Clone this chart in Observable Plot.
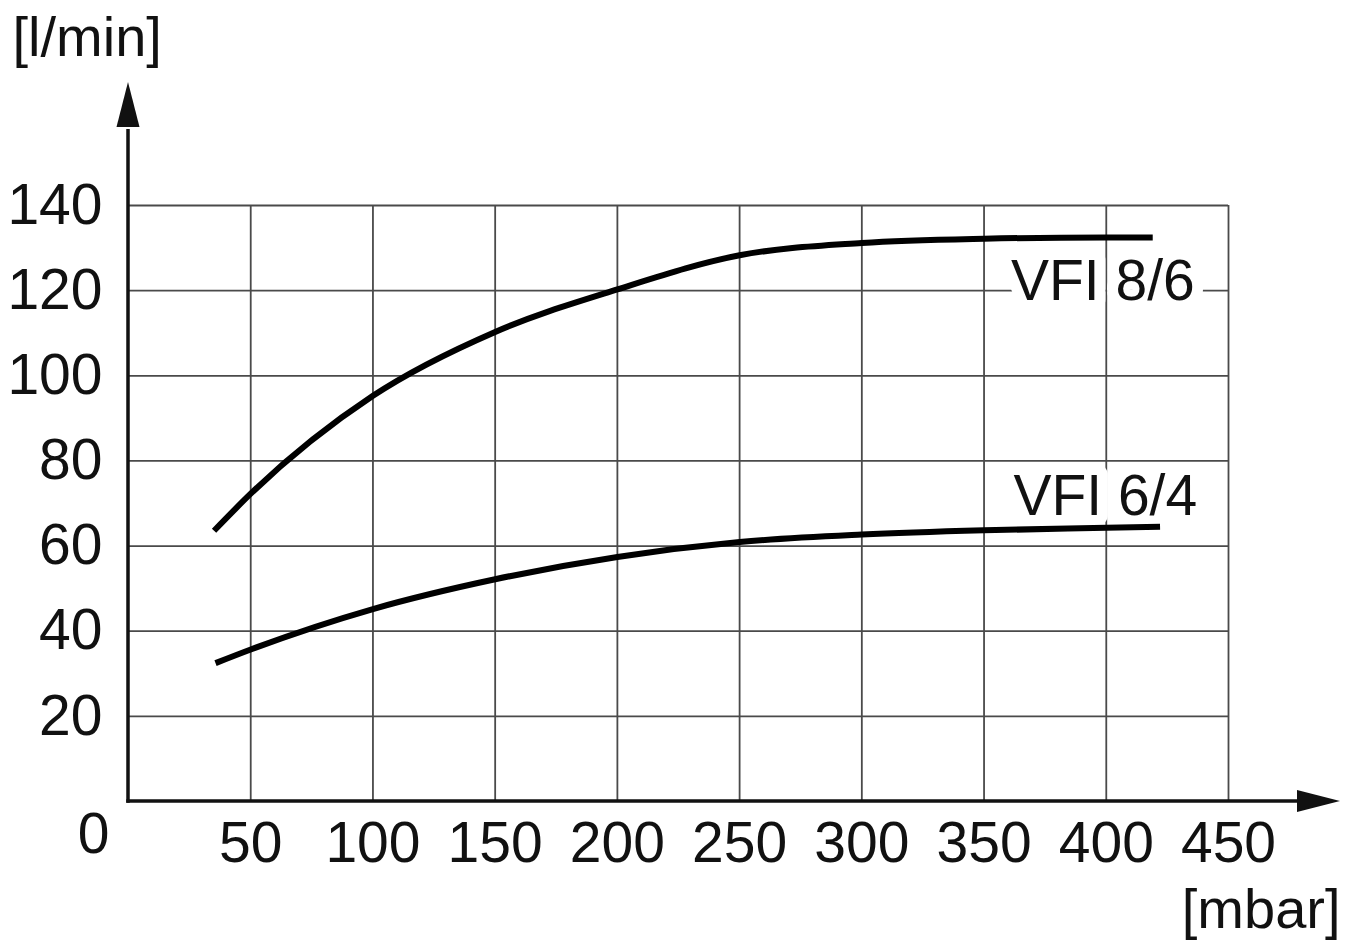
<!DOCTYPE html>
<html>
<head>
<meta charset="utf-8">
<script src="https://cdn.jsdelivr.net/npm/d3@7"></script>
<script src="https://cdn.jsdelivr.net/npm/@observablehq/plot@0.6"></script>
<style>
  html, body { margin: 0; padding: 0; background: #fff; }
  #chart svg { display: block; }
</style>
</head>
<body>
<div id="chart"></div>
<script>
// ---- data ----
const pressure86 = [35, 50, 100, 150, 200, 250, 300, 350, 400, 419];
const flow86     = [63.6, 72.3, 95.3, 110.3, 120.3, 128.3, 131.2, 132.2, 132.5, 132.5];
const pressure64 = [35.6, 50, 100, 150, 200, 250, 300, 350, 400, 422];
const flow64     = [32.5, 35.7, 45.2, 52.2, 57.45, 60.95, 62.7, 63.7, 64.3, 64.55];
const seriesNames = ["VFI 8/6", "VFI 6/4"];
const labelX = [361, 362];
const labelY = [117.7, 67.2];
const xTicks = [50, 100, 150, 200, 250, 300, 350, 400, 450];
const yTicks = [20, 40, 60, 80, 100, 120, 140];
const xUnit = "[mbar]";
const yUnit = "[l/min]";
const originLabel = "0";

const rows = [
  ...pressure86.map((p, i) => ({series: seriesNames[0], p, q: flow86[i]})),
  ...pressure64.map((p, i) => ({series: seriesNames[1], p, q: flow64[i]}))
];
const labels = seriesNames.map((s, i) => ({text: s, x: labelX[i], y: labelY[i]}));

const FONT = "'Liberation Sans', Arial, Helvetica, sans-serif";
const FS = 57;

// axis lines with arrowheads, placed from the scales
function axisArrows(index, scales, values, dims) {
  const x0 = scales.x(0), y0 = scales.y(0);
  const yTip = dims.marginTop - 123, yBase = dims.marginTop - 78;
  const xTip = dims.width - 21, xBase = dims.width - 64;
  const g = d3.create("svg:g");
  g.append("line").attr("x1", x0).attr("x2", x0).attr("y1", y0 + 1.75).attr("y2", yBase + 2)
    .attr("stroke", "#111").attr("stroke-width", 3.5);
  g.append("line").attr("x1", x0 - 1.75).attr("x2", xBase + 2).attr("y1", y0).attr("y2", y0)
    .attr("stroke", "#111").attr("stroke-width", 3.5);
  g.append("path").attr("d", `M${x0},${yTip}L${x0 - 11.5},${yBase}L${x0 + 11.5},${yBase}Z`).attr("fill", "#111");
  g.append("path").attr("d", `M${xTip},${y0}L${xBase},${y0 - 11}L${xBase},${y0 + 11}Z`).attr("fill", "#111");
  return g.node();
}

const chart = Plot.plot({
  width: 1361,
  height: 943,
  marginLeft: 128,
  marginRight: 133,
  marginTop: 205,
  marginBottom: 142,
  style: {fontFamily: FONT, background: "#fff", color: "#111"},
  x: {domain: [0, 450]},
  y: {domain: [0, 140]},
  marks: [
    Plot.gridX(xTicks, {stroke: "#4a4a4a", strokeOpacity: 1, strokeWidth: 1.8}),
    Plot.gridY(yTicks, {stroke: "#4a4a4a", strokeOpacity: 1, strokeWidth: 1.8}),
    Plot.axisX(xTicks, {anchor: "bottom", tickSize: 0, tickPadding: 20.5, fontSize: FS, label: null, fill: "#111"}),
    Plot.axisY(yTicks, {anchor: "left", tickSize: 0, tickPadding: 26, fontSize: FS, label: null, fill: "#111"}),
    Plot.text([originLabel], {frameAnchor: "bottom-left", text: d => d, dx: -35, dy: 51, lineAnchor: "bottom", textAnchor: "middle", fontSize: FS, fill: "#111"}),
    Plot.text([yUnit], {frameAnchor: "top-left", text: d => d, dx: -116, dy: -150, lineAnchor: "bottom", textAnchor: "start", fontSize: 56, fill: "#111"}),
    Plot.text([xUnit], {frameAnchor: "bottom-right", text: d => d, dx: 112, dy: 126, lineAnchor: "bottom", textAnchor: "end", fontSize: 56, fill: "#111"}),
    Plot.text(labels, {x: "x", y: "y", text: "text", textAnchor: "start", lineAnchor: "bottom", fontSize: FS, fill: "#111", stroke: "white", strokeWidth: 22, strokeLinejoin: "round", paintOrder: "stroke"}),
    Plot.line(rows, {x: "p", y: "q", z: "series", stroke: "#000", strokeWidth: 6, curve: "monotone-x", strokeLinecap: "butt"}),
    axisArrows
  ]
});
document.getElementById("chart").appendChild(chart);
</script>
</body>
</html>
